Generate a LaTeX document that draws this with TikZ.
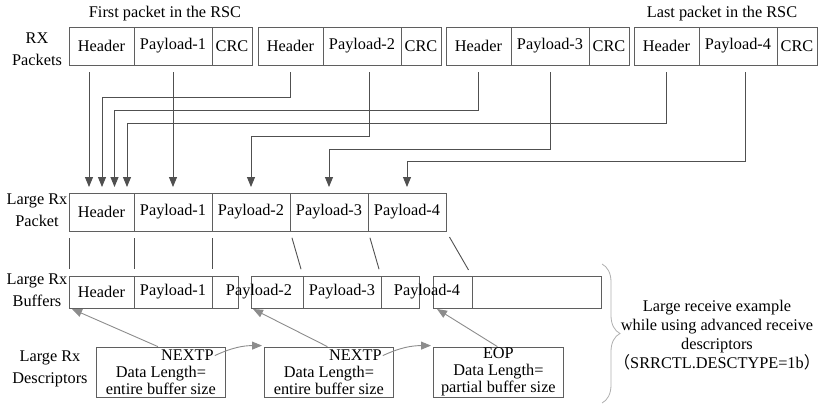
\documentclass[tikz,border=0pt]{standalone}
\usepackage{fontspec}
\setmainfont{Liberation Serif}
\newfontfamily\cjk{Noto Sans CJK SC}
\usetikzlibrary{positioning,arrows.meta,decorations.pathreplacing}
\definecolor{boxline}{RGB}{95,95,95}
\definecolor{arrowline}{RGB}{80,80,80}
\definecolor{feedline}{RGB}{140,140,140}
\definecolor{braceline}{RGB}{175,175,175}
\begin{document}
\begin{tikzpicture}[x=1pt,y=-1pt,>={Triangle[length=10pt,width=8pt]},font=\fontsize{16.3}{19}\selectfont]
        \tikzstyle{field}=[draw=boxline,line width=0.8pt,minimum height=38,inner sep=2pt,outer sep=0pt,anchor=west]
        \tikzstyle{buffer}=[field,minimum height=32]
        \tikzstyle{desc}=[draw=boxline,line width=0.8pt,minimum width=129,minimum height=50,inner sep=0pt,align=center,anchor=west,font=\fontsize{16.3}{17}\selectfont]
        \tikzstyle{move}=[->,draw=arrowline,line width=0.9pt]
        \tikzstyle{link}=[draw=arrowline,line width=0.9pt,shorten <=7pt,shorten >=7pt]
        \tikzstyle{feed}=[->,draw=feedline,line width=0.9pt]
        \tikzstyle{rowlabel}=[align=center,font=\fontsize{16.3}{22}\selectfont]
        \useasboundingbox (0,0) rectangle (825,410);

        % RX packets
        \foreach \i/\x in {1/69,2/258,3/446,4/634} {
          \node [field,minimum width=65] (h\i) at (\x,46) {Header};
          \node [field,minimum width=78,right=0pt of h\i] (p\i) {Payload-\i};
          \node [field,minimum width=40,right=0pt of p\i] (c\i) {CRC};
        }
        \node (first) at (165,14) {First packet in the RSC};
        \node (last) at (722,14) {Last packet in the RSC};

        % large rx packet
        \node [field,minimum width=65] (lh) at (69,212) {Header};
        \foreach \i/\prev in {1/lh,2/lp1,3/lp2,4/lp3}
          \node [field,minimum width=78,right=0pt of \prev] (lp\i) {Payload-\i};

        % large rx buffers
        \node [buffer,minimum width=65] (b1h) at (69,292) {Header};
        \node [buffer,minimum width=78,right=0pt of b1h] (b1p) {Payload-1};
        \node [buffer,minimum width=26,right=0pt of b1p] (b1x) {};
        \node [buffer,minimum width=52] (b2a) at (251,292) {};
        \node [buffer,minimum width=78,right=0pt of b2a] (b2b) {Payload-3};
        \node [buffer,minimum width=38,right=0pt of b2b] (b2c) {};
        \node [buffer,minimum width=39] (b3a) at (433,292) {};
        \node [buffer,minimum width=129,right=0pt of b3a] (b3b) {};
        \node (t2) at (259,292) {Payload-2};
        \node (t4) at (427,292) {Payload-4};

        % descriptors
        \node [desc] (d1) at (96,372) {\strut\\Data Length=\\entire buffer size};
        \node [desc] (d2) at (264,372) {\strut\\Data Length=\\entire buffer size};
        \node [desc,minimum width=130] (d3) at (433,372) {EOP\\Data Length=\\partial buffer size};
        \node [anchor=east,inner sep=1pt] (n1) at ([xshift=-11pt,yshift=-9pt]d1.north east) {NEXTP};
        \node [anchor=east,inner sep=1pt] (n2) at ([xshift=-11pt,yshift=-9pt]d2.north east) {NEXTP};

        % row labels
        \node [rowlabel] (rxlabel) at (37,49) {RX\\Packets};
        \node [rowlabel] (pktlabel) at (37,210) {Large Rx\\Packet};
        \node [rowlabel] (buflabel) at (37,290) {Large Rx\\Buffers};
        \node [rowlabel] (desclabel) at (50,369) {Large Rx\\Descriptors};

        % packets into the large packet
        \path[move] ([xshift=-12.5pt,yshift=-7pt]h1.south) -- ([xshift=-12.5pt,yshift=6pt]lh.north);
        \path[move] ([yshift=-7pt]h2.south) -- ++(0,25) -| ([xshift=0.5pt,yshift=6pt]lh.north);
        \path[move] ([yshift=-7pt]h3.south) -- ++(0,38) -| ([xshift=13pt,yshift=6pt]lh.north);
        \path[move] ([yshift=-7pt]h4.south) -- ++(0,51) -| ([xshift=25.5pt,yshift=6pt]lh.north);
        \path[move] ([yshift=-7pt]p1.south) -- ([yshift=6pt]lp1.north);
        \path[move] ([xshift=7pt,yshift=-7pt]p2.south) -- ++(0,64) -| ([yshift=6pt]lp2.north);
        \path[move] ([yshift=-7pt]p3.south) -- ++(0,77) -| ([yshift=6pt]lp3.north);
        \path[move] ([xshift=7pt,yshift=-7pt]p4.south) -- ++(0,89) -| ([yshift=6pt]lp4.north);

        % large packet split over the buffers
        \path[link] (lh.south west) -- (b1h.north west);
        \path[link] (lp1.south west) -- (b1p.north west);
        \path[link] (lp2.south west) -- (b1x.north west);
        \path[link] (lp3.south west) -- (b2b.north west);
        \path[link] (lp4.south west) -- (b2c.north west);
        \path[link] (lp4.south east) -- (b3b.north west);

        % descriptors point to buffers
        \path[feed] ([xshift=-3pt]d1.north) -- ([xshift=3pt,yshift=-1pt]b1h.south west);
        \path[feed] ([xshift=-1.5pt]d2.north) -- ([xshift=2pt,yshift=-1pt]b2a.south west);
        \path[feed] ([xshift=-1pt]d3.north) -- ([xshift=4pt,yshift=-1pt]b3a.south west);
        \path[feed] (n1.east) to[out=25,in=180] ([xshift=-2pt,yshift=1pt]d2.north west);
        \path[feed] (n2.east) to[out=25,in=180] ([xshift=-2pt,yshift=1pt]d3.north west);

        % brace and note
        \draw[braceline,line width=0.8pt,decorate,decoration={brace,amplitude=18pt}] (602,264) -- (602,403);
        \node [align=center,font=\fontsize{16.3}{19}\selectfont] (note) at (717,335)
          {Large receive example\\while using advanced receive\\descriptors\\{\cjk （}SRRCTL.DESCTYPE=1b{\cjk ）}};
\end{tikzpicture}
\end{document}
